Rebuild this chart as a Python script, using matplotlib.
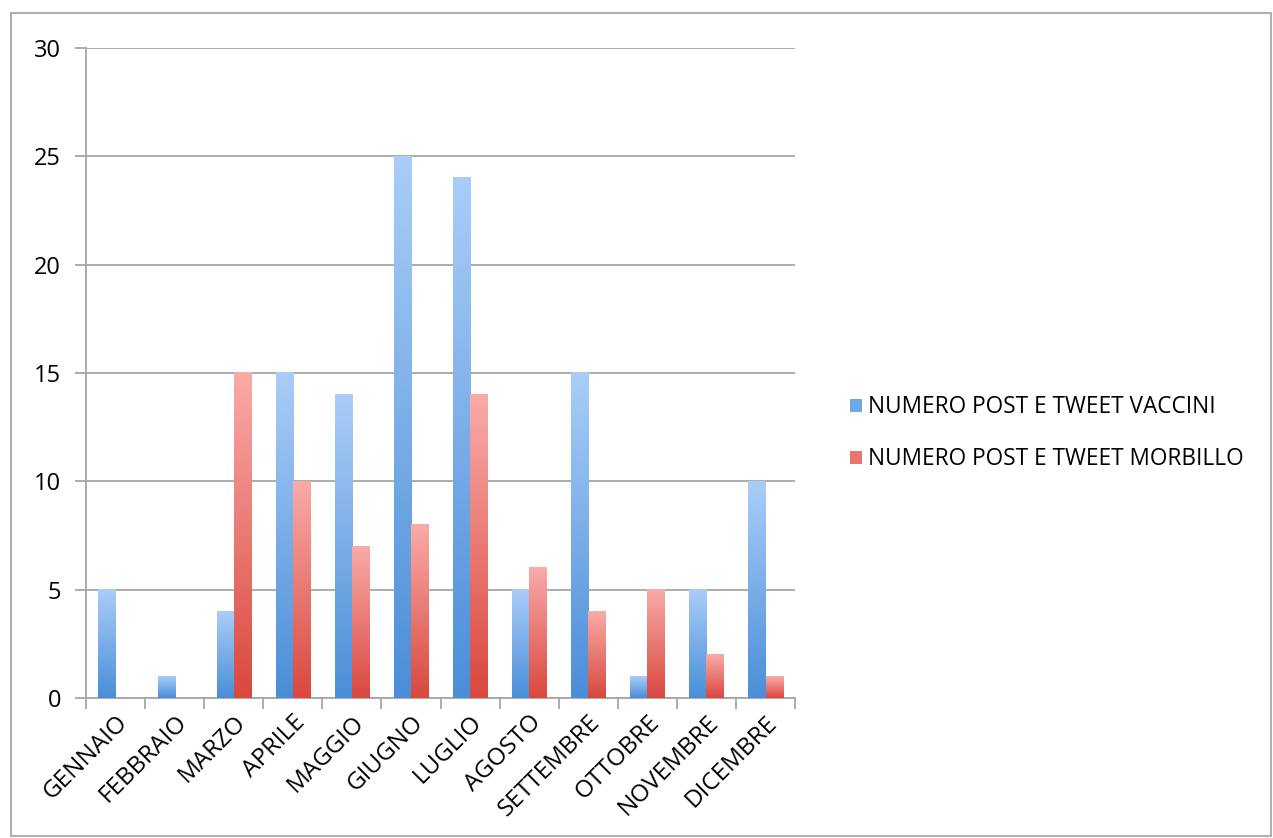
import numpy as np
import matplotlib.pyplot as plt
from matplotlib.colors import LinearSegmentedColormap
from matplotlib.patches import Rectangle, Patch

mesi = ["GENNAIO", "FEBBRAIO", "MARZO", "APRILE", "MAGGIO", "GIUGNO",
        "LUGLIO", "AGOSTO", "SETTEMBRE", "OTTOBRE", "NOVEMBRE", "DICEMBRE"]
vaccini = [5, 1, 4, 15, 14, 25, 24, 5, 15, 1, 5, 10]
morbillo = [0, 0, 15, 10, 7, 8, 14, 6, 4, 5, 2, 1]
serie = ["NUMERO POST E TWEET VACCINI", "NUMERO POST E TWEET MORBILLO"]

plt.rcParams['font.family'] = ['Open Sans', 'DejaVu Sans']

blu = LinearSegmentedColormap.from_list("blu", ["#4a8ed8", "#aacdf8"])
rosso = LinearSegmentedColormap.from_list("rosso", ["#d9483f", "#f9aba8"])

fig = plt.figure(figsize=(12.73, 8.38), dpi=100)
ax = fig.add_axes([0.0676, 0.167, 0.557, 0.776])

x = np.arange(len(mesi))
w = 0.29
grad = np.linspace(0, 1, 256).reshape(-1, 1)

def gradient_bars(vals, offset, cmap):
    bars = ax.bar(x + offset, vals, w, color='none', edgecolor='none', zorder=3)
    for b in bars:
        h = b.get_height()
        if h <= 0:
            continue
        x0 = b.get_x()
        ax.imshow(grad, cmap=cmap, origin='lower', aspect='auto',
                  extent=(x0, x0 + b.get_width(), 0, h), zorder=3,
                  interpolation='bilinear')
    return bars

gradient_bars(vaccini, -w / 2, blu)
gradient_bars(morbillo, w / 2, rosso)

ax.set_xlim(-0.5, len(mesi) - 0.5)
ax.set_ylim(0, 30)
ax.set_yticks(range(0, 31, 5))
ax.yaxis.grid(True, color='#a6a6a6', linewidth=1.3, zorder=0)
ax.set_axisbelow(True)

# tick marks sit between months, labels sit at the centers
ax.set_xticks(np.arange(-0.5, len(mesi)), minor=False)
ax.set_xticklabels([])
ax.set_xticks(x, minor=True)
ax.set_xticklabels(mesi, minor=True, rotation=45, ha='right',
                   rotation_mode='anchor', fontsize=17.5)
ax.tick_params(axis='x', which='major', length=8, color='#a6a6a6', width=1.3)
ax.tick_params(axis='x', which='minor', length=0, pad=9)
ax.tick_params(axis='y', length=8, color='#a6a6a6', width=1.3,
               labelsize=17, pad=10)

for s in ['top', 'right']:
    ax.spines[s].set_visible(False)
for s in ['left', 'bottom']:
    ax.spines[s].set_color('#a6a6a6')
    ax.spines[s].set_linewidth(1.3)

handles = [Patch(facecolor='#6fa8ea', edgecolor='none'),
           Patch(facecolor='#ea7470', edgecolor='none')]
fig.legend(handles, serie, loc='center left', bbox_to_anchor=(0.652, 0.483),
           frameon=False, fontsize=16.3, handlelength=0.5, handleheight=0.5,
           handletextpad=0.3, labelspacing=1.25)

fig.patches.append(Rectangle((11 / 1273, 2 / 838), 1260 / 1273, 823 / 838,
                             transform=fig.transFigure, fill=False,
                             edgecolor='#b0b0b0', linewidth=1.5))

fig.savefig("out.png", dpi=100)
